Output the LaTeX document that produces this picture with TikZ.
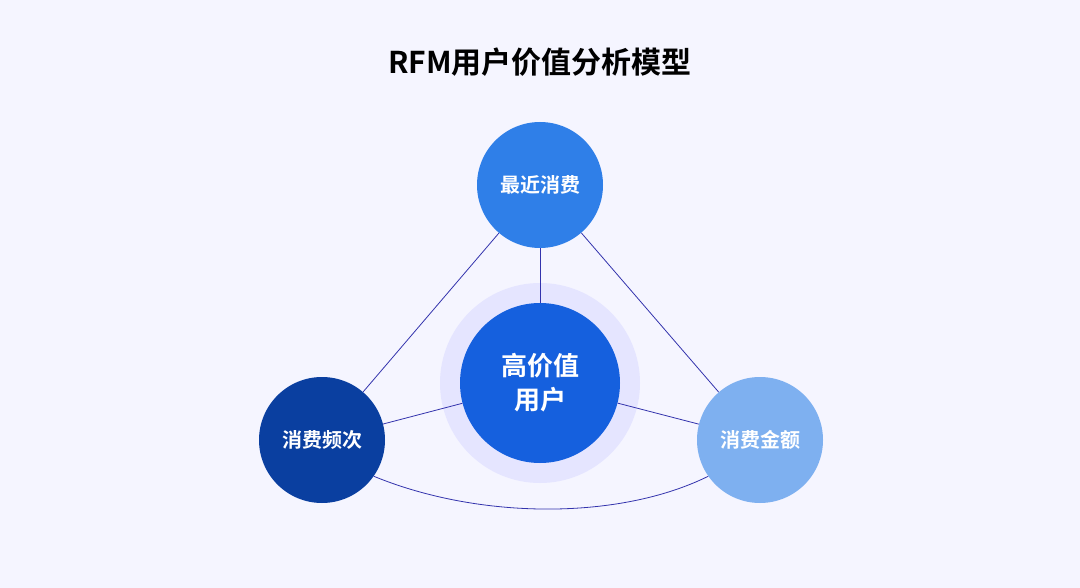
\documentclass[tikz,border=0pt]{standalone}
\usepackage{fontspec}
\newfontfamily\cjk{Noto Sans CJK SC}[BoldFont={Noto Sans CJK SC Bold}]
\begin{document}
\begin{tikzpicture}[x=1pt,y=-1pt,
  circ/.style={circle,draw=none,minimum size=126pt,inner sep=0pt,text=white,font=\cjk\bfseries\fontsize{20}{24}\selectfont,align=center},
  link/.style={draw=blue!60!black!80,line width=0.8pt}]
\useasboundingbox (0,0) rectangle (1080,588);
\fill[white!96!blue] (0,0) rectangle (1080,588);
\node[font=\cjk\bfseries\fontsize{30}{36}\selectfont] (title) at (540,62) {RFM用户价值分析模型};
\fill[blue!10!white] (540,383) circle (100);
\coordinate (c0) at (540,383);
\node[circ,fill={rgb,255:red,47;green,127;blue,232}] (top) at (540,185) {最近消费};
\node[circ,fill={rgb,255:red,10;green,63;blue,160}] (left) at (322,440) {消费频次};
\node[circ,fill={rgb,255:red,126;green,176;blue,240}] (right) at (760,440) {消费金额};
\begin{scope}[on background layer/.style={}]
\end{scope}
\draw[link] (top) -- (left);
\draw[link] (top) -- (right);
\draw[link] (left.-35) .. controls (480,520) and (620,520) .. (right.-145);
\node[circ,minimum size=160pt,fill={rgb,255:red,21;green,96;blue,222},font=\cjk\bfseries\fontsize{26}{34}\selectfont] (mid) at (540,383) {高价值\\用户};
\draw[link] (top) -- (mid);
\draw[link] (mid) -- (left);
\draw[link] (mid) -- (right);
\end{tikzpicture}
\end{document}
